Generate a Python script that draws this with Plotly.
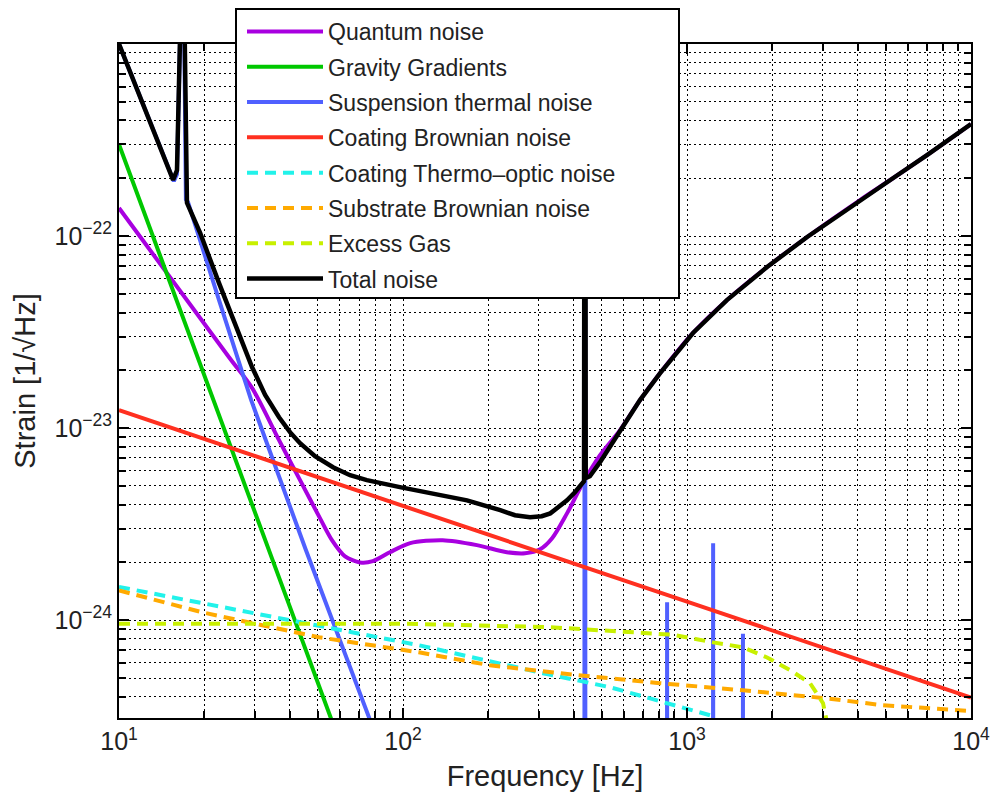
import plotly.graph_objects as go

# ---------------- data ----------------
quantum_f = [10, 24.4, 29.4, 36.6, 43.4, 51.0, 56.2, 62.5, 70.6, 78.3, 89.9, 106, 138, 182, 232,
             269, 304, 335, 378, 430, 494, 581, 683, 803, 1050, 1382, 1914, 2649, 4066, 5309,
             6998, 10000]
quantum = [1.40e-22, 2.34e-23, 1.62e-23, 8.66e-24, 5.36e-24, 3.40e-24, 2.61e-24, 2.15e-24,
           2.00e-24, 2.03e-24, 2.26e-24, 2.52e-24, 2.61e-24, 2.46e-24, 2.26e-24, 2.23e-24,
           2.34e-24, 2.67e-24, 3.60e-24, 5.18e-24, 7.23e-24, 9.77e-24, 1.40e-23, 1.93e-23,
           3.13e-23, 4.64e-23, 6.90e-23, 9.89e-23, 1.54e-22, 2.00e-22, 2.64e-22, 3.83e-22]

gravity_f = [10, 20, 40, 60]
gravity = [3.0e-22, 1.9e-23, 1.17e-24, 2.3e-25]

susp_f = [10, 15.6, 16.0, 16.4, 16.8, 17.2, 17.5, 22.5, 29.2, 45.5, 77.8, 100, 200, 400,
          435, 436, 438, 439, 500, 848, 851, 854, 1000, 1232, 1236, 1240, 1400,
          1570, 1574, 1578, 2000, 10000]
susp = [1.0e-21, 1.93e-22, 2.1e-22, 5e-21, 5e-21, 1.55e-22, 1.5e-22, 4.64e-23, 1.40e-23, 2.32e-24,
        3.0e-25, 1.1e-25, 7e-27, 4e-28, 4e-28, 1e-20, 1e-20, 4e-28, 2e-28, 5e-29, 1.24e-24, 5e-29,
        3e-29, 1.5e-29, 2.52e-24, 1.5e-29, 1e-29, 6e-30, 8.5e-25, 6e-30, 3e-30, 1e-32]

coat_brown_f = [10, 100, 1000, 10000]
coat_brown = [1.24e-23, 3.95e-24, 1.25e-24, 3.95e-25]

coat_to_f = [10, 19.6, 38.7, 66.1, 113.7, 182, 311, 536, 851, 1205, 1400]
coat_to = [1.49e-24, 1.23e-24, 1.02e-24, 8.66e-25, 7.41e-25, 6.34e-25, 5.30e-25, 4.48e-25,
           3.70e-25, 3.20e-25, 2.7e-25]

subst_f = [10, 19.6, 31.9, 50.6, 113.7, 202, 410, 803, 1574, 3112, 4898, 10000]
subst = [1.43e-24, 1.10e-24, 9.42e-25, 8.15e-25, 6.81e-25, 5.83e-25, 5.18e-25, 4.70e-25,
         4.32e-25, 3.92e-25, 3.61e-25, 3.37e-25]

gas_f = [10, 100, 330, 494, 893, 1236, 1574, 1914, 2306, 2713, 3013, 3200]
gas = [9.6e-25, 9.6e-25, 9.2e-25, 8.87e-25, 8.4e-25, 7.67e-25, 7.23e-25, 6.4e-25, 5.5e-25,
       4.7e-25, 3.7e-25, 2.4e-25]

total_f = [10, 11.38, 12.86, 14.52, 15.5, 16.0, 16.4, 16.8, 17.35, 19.3, 22.5, 25.6, 29.4, 32.7,
           36.6, 40.0, 43.4, 49.0, 56.7, 65.1, 74.6, 97.5, 127.6, 168, 220, 248, 280, 308, 330,
           357, 378, 403, 420, 434, 436, 438, 440, 455, 494, 581, 683, 803, 1050, 1382, 1914,
           2649, 4066, 5309, 6998, 10000]
total = [1.0e-21, 6.12e-22, 3.92e-22, 2.49e-22, 1.96e-22, 2.2e-22, 5e-21, 5e-21, 1.49e-22,
         1.04e-22, 5.69e-23, 3.44e-23, 2.08e-23, 1.49e-23, 1.14e-23, 9.53e-24, 8.35e-24,
         7.15e-24, 6.26e-24, 5.69e-24, 5.36e-24, 4.93e-24, 4.58e-24, 4.21e-24, 3.74e-24,
         3.52e-24, 3.44e-24, 3.48e-24, 3.60e-24, 3.93e-24, 4.21e-24, 4.64e-24, 5.05e-24,
         5.3e-24, 1e-20, 1e-20, 5.5e-24, 5.62e-24, 6.65e-24, 9.77e-24, 1.40e-23, 1.93e-23,
         3.13e-23, 4.64e-23, 6.90e-23, 9.89e-23, 1.54e-22, 2.00e-22, 2.64e-22, 3.83e-22]

x_ticks = [10, 100, 1000, 10000]
x_ticktext = ["10<sup>1</sup>", "10<sup>2</sup>", "10<sup>3</sup>", "10<sup>4</sup>"]
y_ticks = [1e-24, 1e-23, 1e-22]
y_ticktext = ["10<sup>\u221224</sup>", "10<sup>\u221223</sup>", "10<sup>\u221222</sup>"]

series = [
    ("Quantum noise", quantum_f, quantum, "#a800e0", "solid", "spline", 4),
    ("Gravity Gradients", gravity_f, gravity, "#00c800", "solid", "linear", 4),
    ("Suspension thermal noise", susp_f, susp, "#5060ff", "solid", "linear", 4),
    ("Coating Brownian noise", coat_brown_f, coat_brown, "#ff3020", "solid", "linear", 4),
    ("Coating Thermo\u2013optic noise", coat_to_f, coat_to, "#22f2ea", "11px,7px", "linear", 4),
    ("Substrate Brownian noise", subst_f, subst, "#ffaa00", "11px,7px", "linear", 4),
    ("Excess Gas", gas_f, gas, "#c8f000", "11px,7px", "linear", 4),
    ("Total noise", total_f, total, "#000000", "solid", "linear", 4.5),
]

# ---------------- figure ----------------
W, H = 993, 797
L, R, T, B = 119, 22, 44, 79
pw, ph = W - L - R, H - T - B
FONT = "Liberation Sans, Arial"

fig = go.Figure()
for i, (name, fx, fy, col, dash, shape, lw) in enumerate(series):
    fig.add_trace(go.Scatter(x=fx, y=fy, mode="lines", name=name, legendgroup=str(i),
                             line=dict(color=col, width=lw, dash=dash, shape=shape,
                                       smoothing=0.8 if shape == "spline" else None)))

def px_x(p):
    return (p - L) / pw

def px_y(p):
    return (H - B - p) / ph

minor_x = [m * 10 ** e for e in range(1, 4) for m in range(2, 10)]
minor_y = [m * 10.0 ** e for e in range(-25, -21) for m in range(2, 10)]

grid_dash = "2px,3px"
axis_common = dict(
    showline=True, linecolor="black", linewidth=2, mirror="ticks",
    ticks="inside", ticklen=10, tickwidth=1.5, tickcolor="black",
    showgrid=True, gridcolor="black", gridwidth=1.2, griddash=grid_dash,
    tickfont=dict(family=FONT, size=25, color="#222"),
    zeroline=False, automargin=False,
)
minor_common = dict(tickmode="array", ticks="inside", ticklen=7, tickcolor="black",
                    showgrid=True, gridcolor="black", gridwidth=1.2, griddash=grid_dash)

fig.update_xaxes(type="log", range=[1, 4], tickmode="array", tickvals=x_ticks, ticktext=x_ticktext,
                 title=dict(text="Frequency [Hz]", font=dict(family=FONT, size=29, color="#222"),
                            standoff=12),
                 minor=dict(tickvals=minor_x, **minor_common),
                 **axis_common)
fig.update_yaxes(type="log", range=[-24.509, -21], tickmode="array", tickvals=y_ticks, ticktext=y_ticktext,
                 title=dict(text="Strain [1/\u221aHz]", font=dict(family=FONT, size=29, color="#222"),
                            standoff=10),
                 minor=dict(tickvals=minor_y, **minor_common),
                 **axis_common)

# legend box
fig.add_shape(type="rect", xref="paper", yref="paper",
              x0=px_x(236), x1=px_x(679), y0=px_y(298), y1=px_y(9),
              line=dict(color="black", width=2), fillcolor="white", layer="above")

fig.update_layout(
    width=W, height=H,
    margin=dict(l=L, r=R, t=T, b=B, autoexpand=False),
    paper_bgcolor="white", plot_bgcolor="white",
    showlegend=True,
    legend=dict(x=px_x(242), y=px_y(10), xanchor="left", yanchor="top",
                bgcolor="rgba(0,0,0,0)", borderwidth=0, itemwidth=76,
                tracegroupgap=2.4, traceorder="grouped",
                font=dict(family=FONT, size=23, color="#222")),
)

fig.write_html("out.html")
